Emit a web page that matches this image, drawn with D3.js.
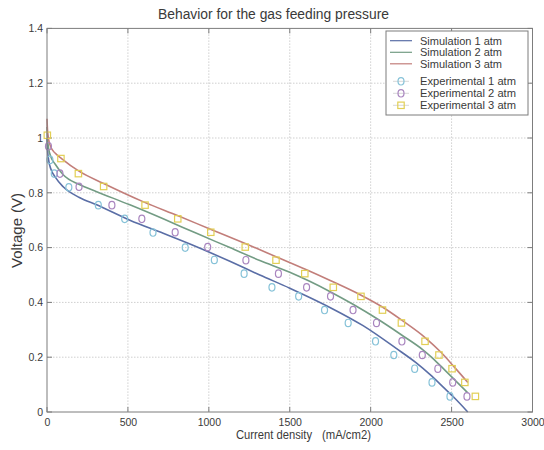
<!DOCTYPE html>
<html>
<head>
<meta charset="utf-8">
<script src="https://cdn.jsdelivr.net/npm/d3@7"></script>
<style>
  body { margin: 0; background: #fff; }
  text { font-family: "Liberation Sans", Arial, Helvetica, sans-serif; fill: #3a3a3a; }
</style>
</head>
<body>
<svg id="chart" width="544" height="450"></svg>
<script>
// Polarization curves of the cell at three gas feeding pressures
const xTicks = [0, 500, 1000, 1500, 2000, 2500, 3000];
const yTicks = [0, 0.2, 0.4, 0.6, 0.8, 1.0, 1.2, 1.4];
const yTickLabels = ["0", "0.2", "0.4", "0.6", "0.8", "1", "1.2", "1.4"];

// Simulated curves (current density mA/cm2, voltage V)
const sim1Current = [0, 3, 10, 25, 50, 100, 200, 307, 512, 718, 924, 1130, 1315, 1500, 1623, 1760, 1953, 2158, 2280, 2364, 2450, 2520, 2600];
const sim1Voltage = [1.0, 0.96, 0.92, 0.885, 0.858, 0.822, 0.783, 0.756, 0.70, 0.652, 0.603, 0.55, 0.50, 0.452, 0.418, 0.378, 0.315, 0.232, 0.18, 0.138, 0.09, 0.05, 0.0];
const sim2Current = [0, 3, 10, 25, 50, 100, 200, 307, 512, 718, 924, 1130, 1315, 1500, 1623, 1747, 1891, 2035, 2189, 2323, 2384, 2460, 2530, 2600];
const sim2Voltage = [1.04, 1.0, 0.962, 0.93, 0.905, 0.866, 0.83, 0.804, 0.756, 0.705, 0.652, 0.60, 0.553, 0.51, 0.477, 0.44, 0.393, 0.342, 0.282, 0.227, 0.196, 0.152, 0.111, 0.07];
const sim3Current = [0, 3, 10, 25, 50, 90, 200, 350, 600, 810, 1010, 1225, 1415, 1600, 1750, 1935, 2070, 2190, 2340, 2436, 2520, 2600];
const sim3Voltage = [1.07, 1.03, 0.995, 0.965, 0.945, 0.925, 0.878, 0.834, 0.766, 0.716, 0.667, 0.615, 0.567, 0.52, 0.48, 0.428, 0.384, 0.336, 0.27, 0.217, 0.162, 0.108];

// Measured points
const exp1Current = [18, 45, 135, 317, 480, 655, 854, 1034, 1218, 1390, 1555, 1715, 1861, 2030, 2143, 2272, 2379, 2490];
const exp1Voltage = [0.92, 0.87, 0.82, 0.755, 0.705, 0.655, 0.60, 0.555, 0.505, 0.455, 0.422, 0.372, 0.325, 0.258, 0.208, 0.158, 0.108, 0.057];
const exp2Current = [9, 80, 198, 401, 586, 792, 993, 1229, 1430, 1604, 1752, 1891, 2036, 2193, 2319, 2415, 2507, 2595];
const exp2Voltage = [0.97, 0.87, 0.822, 0.755, 0.705, 0.656, 0.602, 0.554, 0.505, 0.455, 0.422, 0.372, 0.325, 0.258, 0.208, 0.158, 0.108, 0.057];
const exp3Current = [2, 86, 194, 350, 606, 808, 1012, 1225, 1415, 1593, 1769, 1940, 2073, 2190, 2336, 2422, 2503, 2582, 2647];
const exp3Voltage = [1.01, 0.925, 0.87, 0.823, 0.755, 0.705, 0.656, 0.602, 0.554, 0.505, 0.455, 0.422, 0.372, 0.325, 0.258, 0.208, 0.158, 0.108, 0.057];

const seriesNames = ["Simulation 1 atm", "Simulation 2 atm", "Simulation 3 atm",
                     "Experimental 1 atm", "Experimental 2 atm", "Experimental 3 atm"];

const zip = (xs, ys) => xs.map((v, i) => [v, ys[i]]);

const simSeries = [
  { name: seriesNames[0], data: zip(sim1Current, sim1Voltage), color: "#5a6ea6" },
  { name: seriesNames[1], data: zip(sim2Current, sim2Voltage), color: "#739c84" },
  { name: seriesNames[2], data: zip(sim3Current, sim3Voltage), color: "#c27e7a" }
];
const expSeries = [
  { name: seriesNames[3], data: zip(exp1Current, exp1Voltage), color: "#86c2d8", shape: "circle" },
  { name: seriesNames[4], data: zip(exp2Current, exp2Voltage), color: "#a985bf", shape: "circle" },
  { name: seriesNames[5], data: zip(exp3Current, exp3Voltage), color: "#e2cf55", shape: "square" }
];

const svg = d3.select("#chart");
const plotLeft = 47, plotRight = 532.5, plotTop = 28.4, plotBottom = 412;

const x = d3.scaleLinear().domain([0, 3000]).range([plotLeft, plotRight]);
const y = d3.scaleLinear().domain([0, 1.4]).range([plotBottom, plotTop]);

// grid
const grid = svg.append("g").attr("stroke", "#cfcfcf").attr("stroke-width", 1).attr("stroke-dasharray", "1.5,1.5");
grid.selectAll("line.v").data(xTicks.slice(1, -1)).join("line")
  .attr("x1", d => x(d)).attr("x2", d => x(d)).attr("y1", plotTop).attr("y2", plotBottom);
grid.selectAll("line.h").data(yTicks.slice(1, -1)).join("line")
  .attr("x1", plotLeft).attr("x2", plotRight).attr("y1", d => y(d)).attr("y2", d => y(d));

// axis labels via d3 axes
const xAxis = svg.append("g").attr("transform", `translate(0,${plotBottom})`)
  .call(d3.axisBottom(x).tickValues(xTicks).tickSize(0).tickPadding(6.5).tickFormat(d3.format("d")));
xAxis.select(".domain").remove();
xAxis.selectAll("text").attr("font-size", 10.5).style("fill", "#3a3a3a");

const yAxis = svg.append("g").attr("transform", `translate(${plotLeft},0)`)
  .call(d3.axisLeft(y).tickValues(yTicks).tickSize(0).tickPadding(4).tickFormat((d, i) => yTickLabels[i]));
yAxis.select(".domain").remove();
yAxis.selectAll("text").attr("font-size", 10.5).style("fill", "#3a3a3a");

// inward ticks on all four sides
const tk = svg.append("g").attr("stroke", "#7d7d7d").attr("stroke-width", 1);
xTicks.forEach(t => {
  tk.append("line").attr("x1", x(t)).attr("x2", x(t)).attr("y1", plotBottom).attr("y2", plotBottom - 5);
  tk.append("line").attr("x1", x(t)).attr("x2", x(t)).attr("y1", plotTop).attr("y2", plotTop + 5);
});
yTicks.forEach(t => {
  tk.append("line").attr("x1", plotLeft).attr("x2", plotLeft + 5).attr("y1", y(t)).attr("y2", y(t));
  tk.append("line").attr("x1", plotRight).attr("x2", plotRight - 5).attr("y1", y(t)).attr("y2", y(t));
});

// simulated curves
const line = d3.line().x(d => x(d[0])).y(d => y(d[1])).curve(d3.curveMonotoneX);
simSeries.forEach(s => {
  svg.append("path").datum(s.data).attr("fill", "none")
    .attr("stroke", s.color).attr("stroke-width", 1.6).attr("d", line);
});

// measured markers
function drawMarker(g, shape, cx, cy, color) {
  if (shape === "square") {
    g.append("rect").attr("x", cx - 3.2).attr("y", cy - 3.2).attr("width", 6.4).attr("height", 6.4)
      .attr("fill", "none").attr("stroke", color).attr("stroke-width", 1.2);
  } else {
    g.append("ellipse").attr("cx", cx).attr("cy", cy).attr("rx", 3).attr("ry", 3.7)
      .attr("fill", "none").attr("stroke", color).attr("stroke-width", 1.2);
  }
}
expSeries.forEach(s => {
  const g = svg.append("g");
  s.data.forEach(d => drawMarker(g, s.shape, x(d[0]), y(d[1]), s.color));
});

// plot frame
svg.append("rect").attr("x", plotLeft).attr("y", plotTop).attr("width", plotRight - plotLeft).attr("height", plotBottom - plotTop)
  .attr("fill", "none").attr("stroke", "#7d7d7d").attr("stroke-width", 1);

// title and axis titles
svg.append("text").attr("x", 273.5).attr("y", 18.5).attr("text-anchor", "middle")
  .attr("font-size", 14).attr("textLength", 231).attr("lengthAdjust", "spacingAndGlyphs")
  .text("Behavior for the gas feeding pressure");

svg.append("text").attr("x", 236).attr("y", 439).attr("font-size", 12)
  .attr("textLength", 76).attr("lengthAdjust", "spacingAndGlyphs").text("Current density");
svg.append("text").attr("x", 322).attr("y", 439).attr("font-size", 12)
  .attr("textLength", 49).attr("lengthAdjust", "spacingAndGlyphs").text("(mA/cm2)");

svg.append("text").attr("transform", "translate(22,243) rotate(-90)").attr("text-anchor", "middle")
  .attr("font-size", 15).attr("textLength", 50).attr("lengthAdjust", "spacingAndGlyphs").text("Voltage");
svg.append("text").attr("transform", "translate(22,203) rotate(-90)").attr("text-anchor", "middle")
  .attr("font-size", 15).text("(V)");

// legend
const lg = svg.append("g");
lg.append("rect").attr("x", 386).attr("y", 31).attr("width", 142).attr("height", 84)
  .attr("fill", "#fff").attr("stroke", "#7d7d7d").attr("stroke-width", 1);
const rowY = [40.7, 52.3, 63.8, 81.3, 93.3, 105.3];
simSeries.forEach((s, i) => {
  lg.append("line").attr("x1", 390).attr("x2", 412).attr("y1", rowY[i]).attr("y2", rowY[i])
    .attr("stroke", s.color).attr("stroke-width", 1.2);
  lg.append("text").attr("x", 420).attr("y", rowY[i] + 3.8).attr("font-size", 10.5)
    .attr("textLength", 82).attr("lengthAdjust", "spacingAndGlyphs").text(s.name);
});
expSeries.forEach((s, j) => {
  const yy = rowY[3 + j];
  lg.append("line").attr("x1", 393).attr("x2", 409).attr("y1", yy).attr("y2", yy)
    .attr("stroke", "#d8d8d8").attr("stroke-width", 1);
  drawMarker(lg, s.shape, 401, yy, s.color);
  lg.append("text").attr("x", 420).attr("y", yy + 3.8).attr("font-size", 10.5)
    .attr("textLength", 96).attr("lengthAdjust", "spacingAndGlyphs").text(s.name);
});
</script>
</body>
</html>
